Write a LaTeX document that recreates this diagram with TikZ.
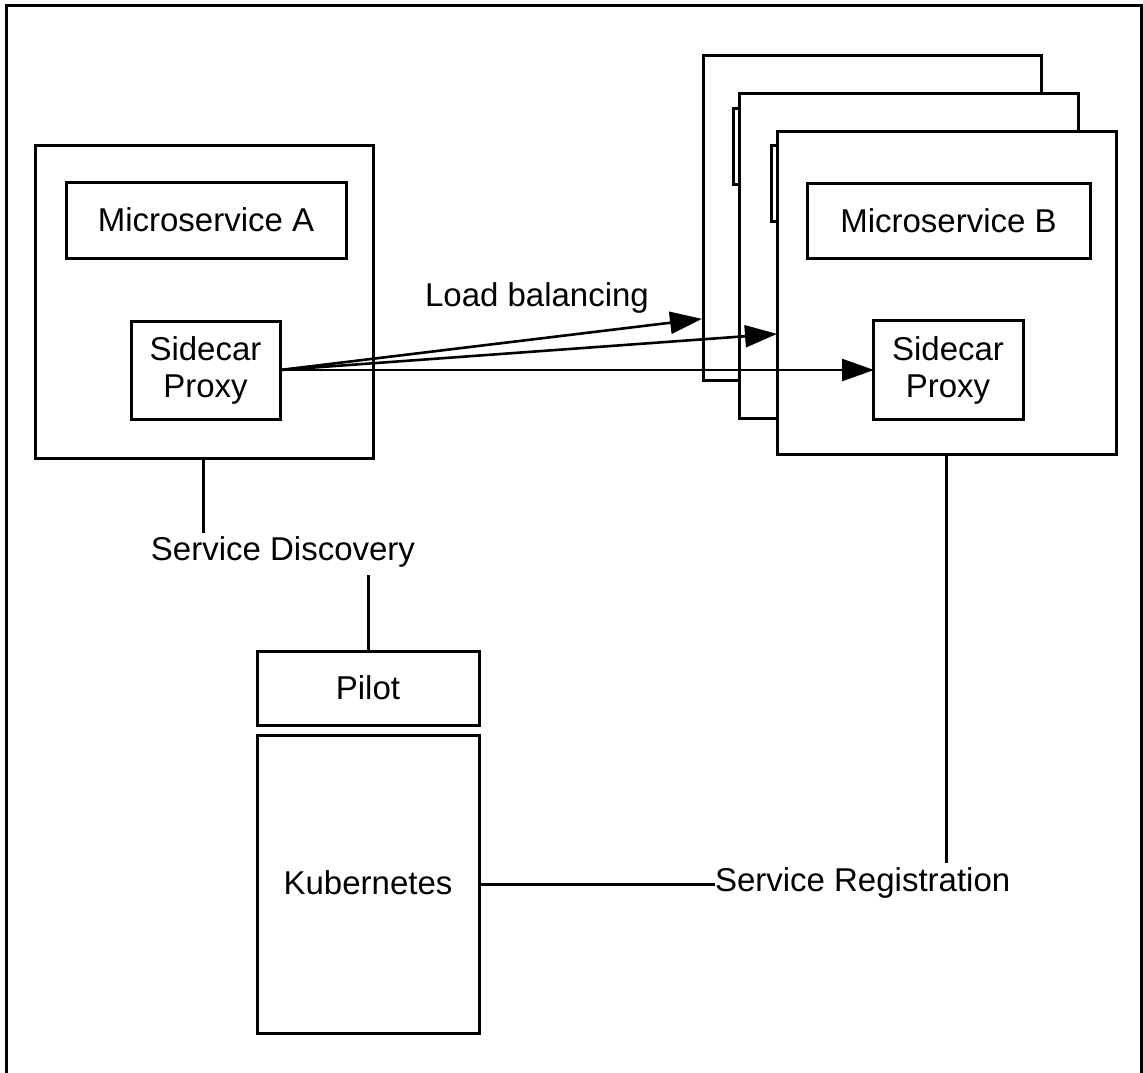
\documentclass[tikz,border=0pt]{standalone}
\usepackage{fontspec}
\setmainfont{Liberation Sans}
\usetikzlibrary{arrows.meta}
\tikzset{
  box/.style={draw=black, line width=3pt, fill=white, rectangle, inner sep=0pt, outer sep=0pt, align=center,
    font=\fontsize{33}{37}\selectfont},
  lbl/.style={inner sep=0pt, outer sep=0pt, font=\fontsize{33}{37}\selectfont},
  conn/.style={line width=3pt},
  arr/.style={line width=2.6pt, -{Triangle[length=32pt,width=22pt]}, shorten >=-1pt}
}
\begin{document}
\begin{tikzpicture}[x=1pt,y=-1pt]
\useasboundingbox (0,0) rectangle (1143,1073);
% outer frame (bottom edge not visible)
\draw[line width=3pt] (6,1080) -- (6,6) -- (1141,6) -- (1141,1080);

% Microservice A group
\node[box, minimum width=338pt, minimum height=313pt] (boxA) at (204,301.5) {};
\node[box, minimum width=280pt, minimum height=76pt] (msA) at (206,220) {Microservice A};
\node[box, minimum width=149pt, minimum height=98pt] (scA) at (205.5,370) {Sidecar\\Proxy};

% stacked Microservice B instances
\node[box, minimum width=338pt, minimum height=324pt] (backB) at (872,218) {};
\node[box, minimum width=6pt, minimum height=76pt] (tabM) at (736,146) {};
\node[box, minimum width=339pt, minimum height=325pt] (midB) at (908.5,255.5) {};
\node[box, minimum width=6pt, minimum height=76pt] (tabF) at (774,183) {};
\node[box, minimum width=339pt, minimum height=323pt] (boxB) at (946.5,292.5) {};
\node[box, minimum width=283pt, minimum height=75pt] (msB) at (948.5,220.5) {Microservice B};
\node[box, minimum width=150pt, minimum height=99pt] (scB) at (948,370) {Sidecar\\Proxy};

% Pilot and Kubernetes
\node[box, minimum width=222pt, minimum height=74pt] (pilot) at (368,688) {Pilot};
\node[box, minimum width=222pt, minimum height=298pt] (kube) at (368,884) {};
\node[lbl] (kubet) at (368,883) {Kubernetes};

% labels
\node[lbl] (lb) at (537,298) {Load balancing};
\node[lbl] (sd) at (283,552) {Service Discovery};
\node[lbl, anchor=west] (sr) at (715,883) {Service Registration};

% load balancing arrows
\coordinate (t1) at (701,319);
\coordinate (t2) at (776,334);
\draw[arr] (scA.east) -- (t1);
\draw[arr] (scA.east) -- (t2);
\draw[arr] (scA.east) -- (scB.west);

% service discovery
\draw[conn] (boxA.south -| 203,0) -- (203,533);
\coordinate (sdb) at (368,575);
\draw[conn] (sdb) -- (pilot.north);

% service registration
\coordinate (srtop) at (946,863);
\draw[conn] (boxB.south) -- (boxB.south |- srtop);
\draw[conn] (kube.east) -- (kube.east -| sr.west);
\end{tikzpicture}
\end{document}
